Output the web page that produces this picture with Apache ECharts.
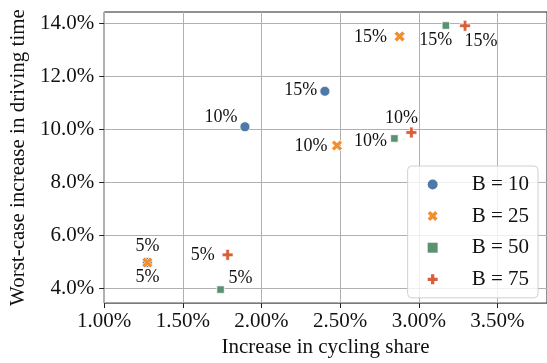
<!DOCTYPE html>
<html>
<head>
<meta charset="utf-8">
<script src="https://cdn.jsdelivr.net/npm/echarts@6/dist/echarts.min.js"></script>
<style>
  html, body { margin: 0; padding: 0; background: #fff; }
  #chart { width: 547px; height: 363px; }
</style>
</head>
<body>
<div id="chart"></div>
<script>
// Budget levels used as point labels
const budgetLabels = ['5%', '10%', '15%'];

// Increase in cycling share (%) / worst-case increase in driving time (%) per bike budget B
const b10X = [1.275, 1.895, 2.403];
const b10Y = [4.97, 10.09, 11.43];
const b25X = [1.275, 2.48, 2.878];
const b25Y = [4.97, 9.38, 13.50];
const b50X = [1.74, 2.845, 3.172];
const b50Y = [3.95, 9.65, 13.91];
const b75X = [1.785, 2.953, 3.294];
const b75Y = [5.26, 9.875, 13.90];

const seriesNames = ['B = 10', 'B = 25', 'B = 50', 'B = 75'];

// Tick values
const xTicks = [1.0, 1.5, 2.0, 2.5, 3.0, 3.5];
const yTicks = [4, 6, 8, 10, 12, 14];

const FONT = 'Liberation Serif';
const colors = ['#4e79a7', '#f28e2b', '#5b9071', '#d95f3b'];

// Filled "X", square and filled "plus" marker outlines
const xPath = 'path://M0,3 L3,0 L6,3 L9,0 L12,3 L9,6 L12,9 L9,12 L6,9 L3,12 L0,9 L3,6 Z';
const squarePath = 'path://M0,0 L10,0 L10,10 L0,10 Z';
const plusPath = 'path://M4,0 L8,0 L8,4 L12,4 L12,8 L8,8 L8,12 L4,12 L4,8 L0,8 L0,4 L4,4 Z';

const symbols = ['circle', xPath, squarePath, plusPath];
const symbolSizes = [10, 11, 7.5, 11];

// Annotation text offsets (px) from each point, per series
const labelOffsets = [
  [[0, -16], [-24, -10], [-24, -1]],
  [[0, 15], [-26, 1], [-29, 1]],
  [[20, -11], [-24, 3], [-10, 15]],
  [[-25, 0], [-10, -14], [16, 15]]
];

const xs = [b10X, b25X, b50X, b75X];
const ys = [b10Y, b25Y, b50Y, b75Y];

const series = seriesNames.map((name, s) => ({
  name: name,
  type: 'scatter',
  symbol: symbols[s],
  symbolSize: symbolSizes[s],
  z: 2 + s,
  itemStyle: { color: colors[s], borderColor: '#ffffff', borderWidth: 0.8, opacity: 1 },
  data: xs[s].map((x, i) => ({
    value: [x, ys[s][i]],
    label: {
      show: true,
      position: 'inside',
      align: 'center',
      verticalAlign: 'middle',
      offset: labelOffsets[s][i],
      formatter: budgetLabels[i],
      color: '#111',
      fontFamily: FONT,
      fontSize: 18
    }
  })),
  emphasis: { disabled: true }
}));

const chart = echarts.init(document.getElementById('chart'));
chart.setOption({
  animation: false,
  textStyle: { fontFamily: FONT },
  grid: {
    left: 99, top: 12, right: -6, bottom: 57,
    show: true, borderColor: '#222', borderWidth: 1, backgroundColor: 'transparent'
  },
  xAxis: {
    type: 'value',
    min: 1.0,
    max: 3.815,
    name: 'Increase in cycling share',
    nameLocation: 'middle',
    nameGap: 28,
    nameTextStyle: { fontFamily: FONT, fontSize: 21, color: '#111' },
    axisLine: { show: false },
    axisTick: { show: true, inside: false, length: 5, customValues: xTicks, lineStyle: { color: '#222' } },
    axisLabel: {
      customValues: xTicks,
      margin: 8,
      fontFamily: FONT, fontSize: 21, color: '#111',
      formatter: v => v.toFixed(2) + '%'
    },
    splitLine: { show: true, lineStyle: { color: '#b0b0b0', width: 1 } }
  },
  yAxis: {
    type: 'value',
    min: 3.44,
    max: 14.42,
    name: 'Worst-case increase in driving time',
    nameLocation: 'middle',
    nameGap: 67,
    nameTextStyle: { fontFamily: FONT, fontSize: 21, color: '#111' },
    axisLine: { show: false },
    axisTick: { show: true, inside: false, length: 5, customValues: yTicks, lineStyle: { color: '#222' } },
    axisLabel: {
      customValues: yTicks,
      margin: 10,
      fontFamily: FONT, fontSize: 21, color: '#111',
      formatter: v => v.toFixed(1) + '%'
    },
    splitLine: { show: true, lineStyle: { color: '#b0b0b0', width: 1 } }
  },
  legend: {
    orient: 'vertical',
    right: 9,
    top: 166,
    data: seriesNames,
    itemWidth: 20,
    itemHeight: 10,
    itemGap: 10.6,
    padding: [8, 9, 8, 20],
    backgroundColor: 'rgba(255,255,255,0.8)',
    borderColor: '#d0d0d0',
    borderWidth: 1,
    borderRadius: 4,
    selectedMode: false,
    itemStyle: { borderWidth: 0 },
    formatter: name => '{t|' + name + '}',
    textStyle: {
      fontFamily: FONT, fontSize: 21, color: '#111', lineHeight: 20,
      rich: { t: { fontFamily: FONT, fontSize: 21, color: '#111', lineHeight: 20, padding: [0, 0, 0, 24] } }
    }
  },
  series: series
});
</script>
</body>
</html>
